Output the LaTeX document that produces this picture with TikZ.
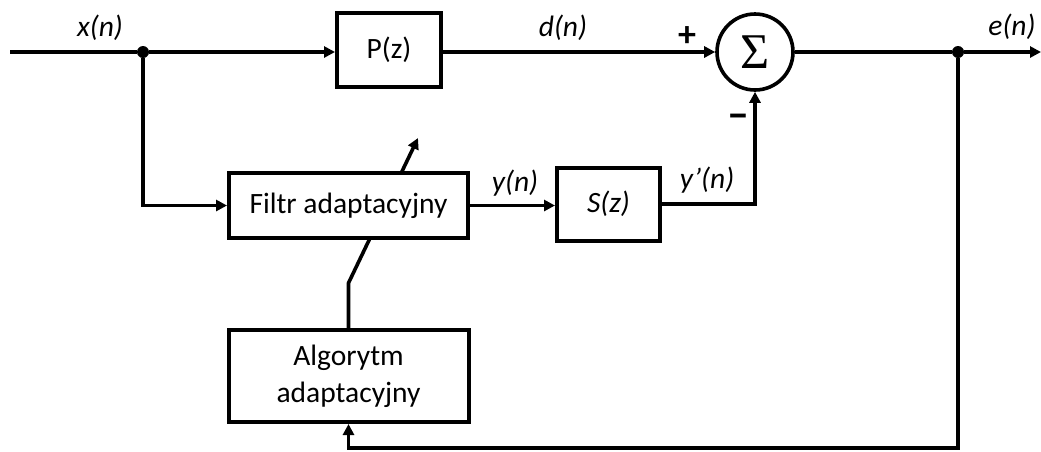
\documentclass[tikz,border=0pt]{standalone}
\usepackage{fontspec}
\setmainfont{Carlito}
\newfontfamily\sigmafont{Liberation Serif}
\usetikzlibrary{arrows.meta,calc}
\begin{document}
\begin{tikzpicture}[x=1pt,y=-1pt,
  wire/.style={line width=3.6pt,line join=miter},
  sig/.style={wire,-{Triangle[length=11pt,width=11pt]}},
  blockbox/.style={draw,line width=4pt,fill=white,rectangle,inner sep=0pt,font=\fontsize{29.5}{34}\selectfont},
  lbl/.style={font=\fontsize{29.5}{34}\selectfont\itshape,inner sep=0pt},
  junction/.style={circle,fill=black,inner sep=0pt,minimum size=12pt}]
\useasboundingbox (0,0) rectangle (1041,451);

% blocks
\node[blockbox,minimum width=104pt,minimum height=74pt] (P) at (389,50) {P(z)};
\node[draw,circle,line width=3.6pt,minimum size=76pt,inner sep=0pt] (sum) at (755,52)
  {\sigmafont\fontsize{50}{50}\selectfont Σ};
\node[blockbox,minimum width=103pt,minimum height=73pt] (S) at (608.5,204) {\itshape S(z)};
\node[blockbox,minimum width=240pt,minimum height=92pt,align=center,
  font=\fontsize{29.5}{37}\selectfont] (alg) at (348.5,376) {Algorytm\\adaptacyjny};

% adaptation arrow crossing the filter block
\coordinate (kink) at (348.5,283);
\coordinate (tip) at (418,138);
\draw[sig] (alg.north) -- (kink) -- (tip);
\node[blockbox,minimum width=239pt,minimum height=65pt] (filt) at (348.5,205.5) {Filtr adaptacyjny};

% junctions and free ends
\coordinate (in) at (10,52);
\node[junction] (xdot) at (143,52) {};
\node[junction] (edot) at (958,52) {};
\coordinate (out) at (1041,52);
\coordinate (fb) at (958,448);

% signal paths
\draw[wire] (in) -- (xdot);
\draw[sig] (xdot) -- (P.west |- xdot);
\draw[sig] (P.east |- sum) -- (sum.west);
\draw[wire] (sum.east) -- (edot);
\draw[sig] (edot) -- (out);
\draw[sig] (xdot) |- (filt.west);
\draw[sig] (filt.east) -- (filt.east -| S.west);
\draw[sig] (S.east) -| (sum.south);
\draw[sig] (edot) -- (fb) -| (alg.south);

% labels
\node[lbl] at (100,28) {x(n)};
\node[lbl] at (563,28) {d(n)};
\node[lbl] at (1012,27) {e(n)};
\node[lbl] at (515,183) {y(n)};
\node[lbl] at (707,180) {y’(n)};
\node[font=\fontsize{36}{36}\selectfont\bfseries,inner sep=0pt] at (687,37) {+};
\node[font=\fontsize{44}{44}\selectfont\bfseries,inner sep=0pt] at (738,121) {–};
\end{tikzpicture}
\end{document}
